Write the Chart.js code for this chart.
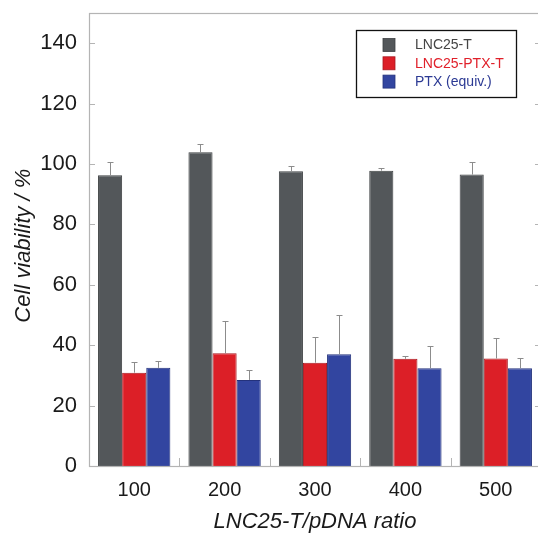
<!DOCTYPE html>
<html>
<head>
<meta charset="utf-8">
<script src="https://cdn.jsdelivr.net/npm/chart.js@4/dist/chart.umd.min.js"></script>
<style>
  html, body { margin: 0; padding: 0; background: #ffffff; overflow: hidden; }
  #wrap { width: 548px; height: 533px; }
</style>
</head>
<body>
<div id="wrap"><canvas id="c" width="548" height="533"></canvas></div>
<script>
const categories = ['100', '200', '300', '400', '500'];
const seriesNames = ['LNC25-T', 'LNC25-PTX-T', 'PTX (equiv.)'];
const lnc25T = [96.3, 103.9, 97.6, 97.8, 96.5];
const lnc25TErr = [4.4, 2.8, 1.8, 0.8, 4.1];
const lnc25PtxT = [30.9, 37.3, 34.2, 35.5, 35.6];
const lnc25PtxTErr = [3.7, 10.7, 8.4, 0.8, 6.8];
const ptxEquiv = [32.5, 28.5, 37.0, 32.4, 32.4];
const ptxEquivErr = [2.3, 3.2, 13.1, 7.4, 3.4];
const yTicks = [0, 20, 40, 60, 80, 100, 120, 140];

const fills = ['#53575a', '#dc1f27', '#3245a0'];
const borders = ['#3d4042', '#a8181f', '#24327c'];
const legendText = ['#444444', '#e0202a', '#2c3a94'];
const errs = [lnc25TErr, lnc25PtxTErr, ptxEquivErr];

const framePlugin = {
  id: 'frame',
  afterDatasetsDraw(chart) {
    const ctx = chart.ctx;
    const a = chart.chartArea;
    const ys = chart.scales.y;
    const xs = chart.scales.x;
    ctx.save();
    // error bars
    ctx.strokeStyle = '#8c8c8c';
    ctx.lineWidth = 1;
    chart.data.datasets.forEach((ds, i) => {
      const meta = chart.getDatasetMeta(i);
      meta.data.forEach((bar, j) => {
        const top = ys.getPixelForValue(ds.data[j] + errs[i][j]);
        const x = Math.round(bar.x) + 0.5;
        ctx.beginPath();
        ctx.moveTo(x, bar.y);
        ctx.lineTo(x, Math.round(top) + 0.5);
        ctx.moveTo(x - 3, Math.round(top) + 0.5);
        ctx.lineTo(x + 3, Math.round(top) + 0.5);
        ctx.stroke();
      });
    });
    // frame
    ctx.strokeStyle = '#b4b4b4';
    ctx.lineWidth = 1.2;
    ctx.strokeRect(Math.round(a.left) + 0.5, Math.round(a.top) + 0.5,
      Math.round(a.right - a.left), Math.round(a.bottom - a.top));
    // inward y ticks
    ctx.lineWidth = 1;
    yTicks.forEach(v => {
      const y = Math.round(ys.getPixelForValue(v)) + 0.5;
      ctx.beginPath();
      ctx.moveTo(a.left, y); ctx.lineTo(a.left + 6, y);
      ctx.moveTo(a.right, y); ctx.lineTo(a.right - 6, y);
      ctx.stroke();
    });
    // x separators
    for (let i = 0; i < categories.length - 1; i++) {
      const x = Math.round((xs.getPixelForValue(i) + xs.getPixelForValue(i + 1)) / 2) + 0.5;
      ctx.beginPath();
      ctx.moveTo(x, a.bottom); ctx.lineTo(x, a.bottom - 8);
      ctx.stroke();
    }
    // legend
    const bx = a.right - 185, by = a.top + 17, bw = 160, bh = 67;
    ctx.strokeStyle = '#111111';
    ctx.lineWidth = 1.3;
    ctx.fillStyle = '#ffffff';
    ctx.fillRect(bx, by, bw, bh);
    ctx.strokeRect(bx + 0.5, by + 0.5, bw, bh);
    ctx.font = '14px "Liberation Sans", Arial, sans-serif';
    ctx.textBaseline = 'middle';
    chart.data.datasets.forEach((ds, i) => {
      const cy = by + 15 + i * 18.3;
      ctx.fillStyle = fills[i];
      ctx.fillRect(bx + 27, cy - 6.5, 12, 13);
      ctx.strokeStyle = borders[i];
      ctx.lineWidth = 0.8;
      ctx.strokeRect(bx + 27, cy - 6.5, 12, 13);
      ctx.fillStyle = legendText[i];
      ctx.fillText(ds.label, bx + 59, cy + 0.5);
    });
    ctx.restore();
  }
};

new Chart(document.getElementById('c'), {
  type: 'bar',
  data: {
    labels: categories,
    datasets: [
      { label: seriesNames[0], data: lnc25T, backgroundColor: fills[0], borderColor: borders[0], borderWidth: 1 },
      { label: seriesNames[1], data: lnc25PtxT, backgroundColor: fills[1], borderColor: borders[1], borderWidth: 1 },
      { label: seriesNames[2], data: ptxEquiv, backgroundColor: fills[2], borderColor: borders[2], borderWidth: 1 }
    ]
  },
  options: {
    responsive: false,
    animation: false,
    layout: { padding: { top: 13, right: 7, left: 0, bottom: 0 } },
    datasets: { bar: { categoryPercentage: 0.8, barPercentage: 1.0 } },
    plugins: { legend: { display: false }, tooltip: { enabled: false } },
    scales: {
      x: {
        grid: { display: false, drawTicks: false },
        border: { display: false },
        afterFit(s) { s.height = 67; s.paddingLeft = 0; s.paddingRight = 0; },
        ticks: { color: '#1a1a1a', padding: 12, font: { family: '"Liberation Sans", Arial, sans-serif', size: 20 } },
        title: {
          display: true, text: 'LNC25-T/pDNA ratio', color: '#1a1a1a',
          font: { family: '"Liberation Sans", Arial, sans-serif', size: 22, style: 'italic', lineHeight: 1 },
          padding: { top: 0, bottom: 0 }
        }
      },
      y: {
        min: 0, max: 150,
        afterBuildTicks(s) { s.ticks = yTicks.map(v => ({ value: v })); },
        afterFit(s) { s.width = 89; s.paddingTop = 0; s.paddingBottom = 0; },
        grid: { display: false, drawTicks: false },
        border: { display: false },
        ticks: { color: '#1a1a1a', padding: 12, font: { family: '"Liberation Sans", Arial, sans-serif', size: 22 } },
        title: {
          display: true, text: 'Cell viability / %  ', color: '#1a1a1a',
          font: { family: '"Liberation Sans", Arial, sans-serif', size: 22, style: 'italic', lineHeight: 1 },
          padding: { top: 13, bottom: 0 }
        }
      }
    }
  },
  plugins: [framePlugin]
});
</script>
</body>
</html>
